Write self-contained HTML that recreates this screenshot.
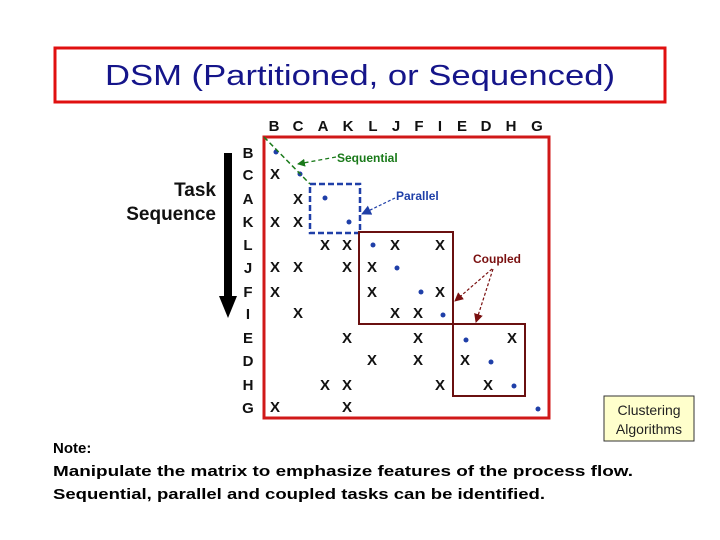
<!DOCTYPE html>
<html><head><meta charset="utf-8"><style>
html,body{margin:0;padding:0;background:#fff;}
svg{display:block;}
</style></head><body>
<svg width="720" height="540" viewBox="0 0 720 540" xmlns="http://www.w3.org/2000/svg">
<defs>
<marker id="ag" markerWidth="8" markerHeight="8" refX="7" refY="4" orient="auto" markerUnits="userSpaceOnUse"><path d="M0,0 L8,4 L0,8 z" fill="#1a7a1a"/></marker>
<marker id="ab" markerWidth="10" markerHeight="10" refX="9" refY="5" orient="auto" markerUnits="userSpaceOnUse"><path d="M0,0 L10,5 L0,10 z" fill="#1f3fa8"/></marker>
<marker id="ar" markerWidth="9" markerHeight="9" refX="8" refY="4.5" orient="auto" markerUnits="userSpaceOnUse"><path d="M0,0 L9,4.5 L0,9 z" fill="#7a1010"/></marker>
</defs>
<rect x="55" y="48" width="610" height="54" fill="#fff" stroke="#e01010" stroke-width="3"/>
<text x="360" y="85" text-anchor="middle" font-family="Liberation Sans, sans-serif" font-size="29" fill="#15158a" textLength="510" lengthAdjust="spacingAndGlyphs">DSM (Partitioned, or Sequenced)</text>

<g font-family="Liberation Sans, sans-serif" font-weight="bold" font-size="19" fill="#111" text-anchor="end">
<text x="216" y="196">Task</text><text x="216" y="220">Sequence</text></g>
<rect x="224" y="153" width="8" height="146" fill="#000"/>
<path d="M219,296 L237,296 L228,318 z" fill="#000"/>

<g font-family="Liberation Sans, sans-serif" font-weight="bold" font-size="15" fill="#111" text-anchor="middle">
<text x="274" y="131">B</text><text x="298" y="131">C</text><text x="323" y="131">A</text><text x="348" y="131">K</text><text x="373" y="131">L</text><text x="396" y="131">J</text><text x="419" y="131">F</text><text x="440" y="131">I</text><text x="462" y="131">E</text><text x="486" y="131">D</text><text x="511" y="131">H</text><text x="537" y="131">G</text>
<text x="248" y="158">B</text><text x="248" y="180">C</text><text x="248" y="204">A</text><text x="248" y="227">K</text><text x="248" y="250">L</text><text x="248" y="273">J</text><text x="248" y="297">F</text><text x="248" y="319">I</text><text x="248" y="343">E</text><text x="248" y="366">D</text><text x="248" y="390">H</text><text x="248" y="413">G</text>
</g>
<rect x="264" y="137" width="285" height="281" fill="none" stroke="#d01818" stroke-width="3"/>
<rect x="310" y="184" width="50" height="49" fill="none" stroke="#1f3fa8" stroke-width="2.5" stroke-dasharray="6,3"/>
<rect x="359" y="232" width="94" height="92" fill="none" stroke="#6a1010" stroke-width="2"/>
<rect x="453" y="324" width="72" height="72" fill="none" stroke="#6a1010" stroke-width="2"/>

<g font-family="Liberation Sans, sans-serif" font-weight="bold" font-size="15" fill="#111" text-anchor="middle">
<text x="275" y="179">X</text>
<text x="298" y="204">X</text>
<text x="275" y="227">X</text><text x="298" y="227">X</text>
<text x="325" y="250">X</text><text x="347" y="250">X</text><text x="395" y="250">X</text><text x="440" y="250">X</text>
<text x="275" y="272">X</text><text x="298" y="272">X</text><text x="347" y="272">X</text><text x="372" y="272">X</text>
<text x="275" y="297">X</text><text x="372" y="297">X</text><text x="440" y="297">X</text>
<text x="298" y="318">X</text><text x="395" y="318">X</text><text x="418" y="318">X</text>
<text x="347" y="343">X</text><text x="418" y="343">X</text><text x="512" y="343">X</text>
<text x="372" y="365">X</text><text x="418" y="365">X</text><text x="465" y="365">X</text>
<text x="325" y="390">X</text><text x="347" y="390">X</text><text x="440" y="390">X</text><text x="488" y="390">X</text>
<text x="275" y="412">X</text><text x="347" y="412">X</text>
</g>
<g fill="#1f3fa8">
<circle cx="276" cy="152" r="2.5"/><circle cx="300" cy="174" r="2.5"/><circle cx="325" cy="198" r="2.5"/><circle cx="349" cy="222" r="2.5"/>
<circle cx="373" cy="245" r="2.5"/><circle cx="397" cy="268" r="2.5"/><circle cx="421" cy="292" r="2.5"/><circle cx="443" cy="315" r="2.5"/>
<circle cx="466" cy="340" r="2.5"/><circle cx="491" cy="362" r="2.5"/><circle cx="514" cy="386" r="2.5"/><circle cx="538" cy="409" r="2.5"/>
</g>
<line x1="264" y1="137" x2="310" y2="184" stroke="#1a7a1a" stroke-width="1.5" stroke-dasharray="5,3"/>
<line x1="336" y1="157" x2="298" y2="164" stroke="#1a7a1a" stroke-width="1.3" stroke-dasharray="4,3" marker-end="url(#ag)"/>
<text x="337" y="162" font-family="Liberation Sans, sans-serif" font-weight="bold" font-size="12" fill="#1a7a1a">Sequential</text>
<line x1="395" y1="198" x2="362" y2="214" stroke="#1f3fa8" stroke-width="1.2" stroke-dasharray="3,2" marker-end="url(#ab)"/>
<text x="396" y="200" font-family="Liberation Sans, sans-serif" font-weight="bold" font-size="12" fill="#1f3fa8">Parallel</text>
<text x="473" y="263" font-family="Liberation Sans, sans-serif" font-weight="bold" font-size="12" fill="#7a1010">Coupled</text>
<line x1="492" y1="269" x2="455" y2="301" stroke="#7a1010" stroke-width="1.2" stroke-dasharray="3,2" marker-end="url(#ar)"/>
<line x1="493" y1="269" x2="476" y2="322" stroke="#7a1010" stroke-width="1.2" stroke-dasharray="3,2" marker-end="url(#ar)"/>

<rect x="604" y="396" width="90" height="45" fill="#ffffcc" stroke="#333" stroke-width="1"/>
<text x="649" y="415" text-anchor="middle" font-family="Liberation Sans, sans-serif" font-size="14" fill="#222">Clustering</text>
<text x="649" y="434" text-anchor="middle" font-family="Liberation Sans, sans-serif" font-size="14" fill="#222">Algorithms</text>

<g font-family="Liberation Sans, sans-serif" font-weight="bold" font-size="15" fill="#000">
<text x="53" y="453">Note:</text>
<text x="53" y="476" textLength="580" lengthAdjust="spacingAndGlyphs">Manipulate the matrix to emphasize features of the process flow.</text>
<text x="53" y="499" textLength="492" lengthAdjust="spacingAndGlyphs">Sequential, parallel and coupled tasks can be identified.</text>
</g>
</svg>
</body></html>
